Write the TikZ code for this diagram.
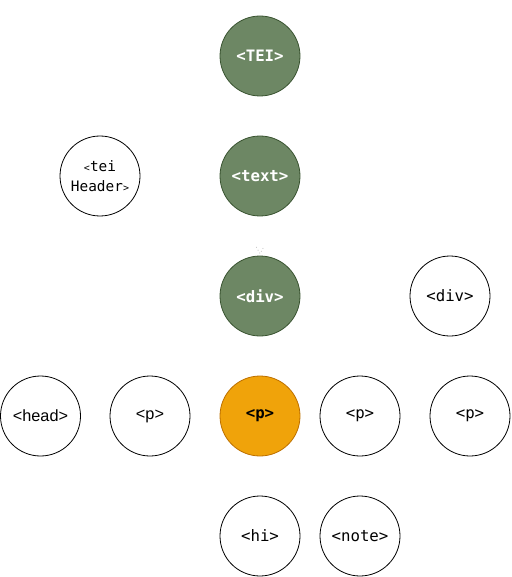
\documentclass[tikz,border=0pt]{standalone}
\usepackage{fontspec}
\setmainfont{DejaVu Sans Mono}
\newfontfamily\sansf{Liberation Sans}
\newfontfamily\monof{DejaVu Sans Mono}
\definecolor{gfill}{HTML}{6D8764}
\definecolor{gline}{HTML}{3A5431}
\definecolor{ofill}{HTML}{F0A30A}
\definecolor{oline}{HTML}{BD7000}
\begin{document}
\begin{tikzpicture}[x=0.75pt,y=-0.75pt,
  el/.style={circle,draw=black,line width=0.6pt,minimum size=60pt,inner sep=0pt,fill=white,font=\monof\fontsize{11.8}{14}\selectfont,align=center},
  green/.style={el,fill=gfill,draw=gline,text=white,font=\monof\bfseries\fontsize{11.8}{14}\selectfont},
  orange/.style={el,fill=ofill,draw=oline,text=black,font=\monof\bfseries\fontsize{11.8}{14}\selectfont},
  sans/.style={font=\sansf\fontsize{12.2}{14}\selectfont}]
\useasboundingbox (0,0) rectangle (511,577);
\node[green] (tei) at (260,56) {<TEI>};
\node[green] (text) at (260,176) {<text>};
\node[el,font=\monof\fontsize{10.8}{15}\selectfont] (hdr) at (100,176) {{\fontsize{7.5}{15}\selectfont<}tei\\Header{\fontsize{7.5}{15}\selectfont>}};
\node[green] (div) at (260,296) {<div>};
\node[el] (div2) at (450,296) {<div>};
\node[el,sans] (head) at (40.5,416) {<head>};
\node[el,sans] (p1) at (150,416) {<p>};
\node[orange] (p) at (260,416) {<p>};
\node[el] (p3) at (360,416) {<p>};
\node[el] (p4) at (470,416) {<p>};
\node[el] (hi) at (260,536) {<hi>};
\node[el] (note) at (360,536) {<note>};
\draw[gray!70,dotted,line width=0.5pt] ([xshift=-2.8pt,yshift=6.5pt]div.north) -- ([yshift=1.5pt]div.north) -- ([xshift=2.8pt,yshift=6.5pt]div.north);
\end{tikzpicture}
\end{document}
